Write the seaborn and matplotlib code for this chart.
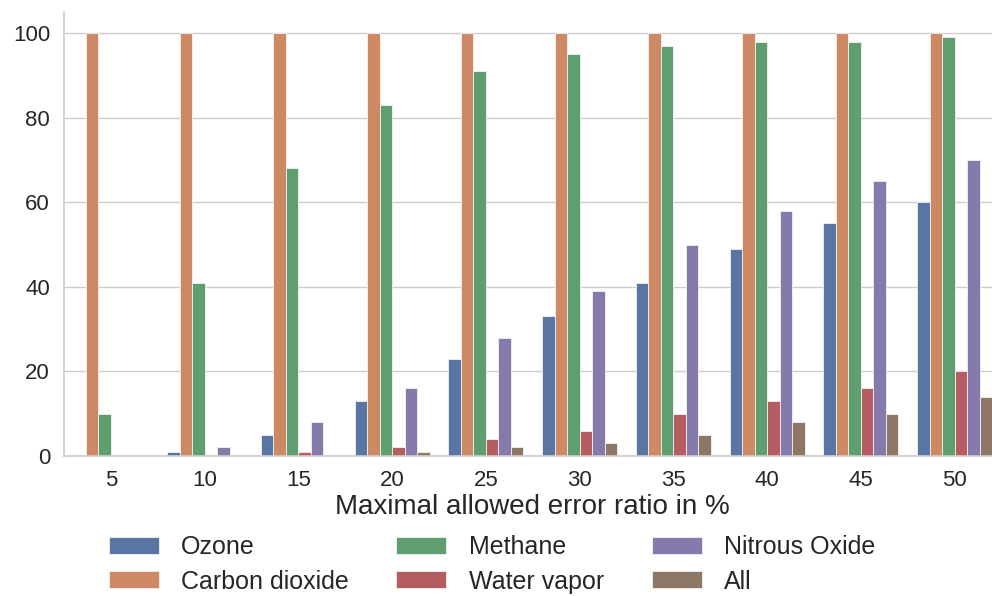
import numpy as np
import pandas as pd
import seaborn as sns
import matplotlib
matplotlib.use("Agg")
import matplotlib.pyplot as plt

# Error ratio thresholds (x categories)
error_ratio = [5, 10, 15, 20, 25, 30, 35, 40, 45, 50]

# Values per gas
ozone = [0, 1, 5, 13, 23, 33, 41, 49, 55, 60]
carbon_dioxide = [100, 100, 100, 100, 100, 100, 100, 100, 100, 100]
methane = [10, 41, 68, 83, 91, 95, 97, 98, 98, 99]
water_vapor = [0, 0, 1, 2, 4, 6, 10, 13, 16, 20]
nitrous_oxide = [0, 2, 8, 16, 28, 39, 50, 58, 65, 70]
all_gases = [0, 0, 0, 1, 2, 3, 5, 8, 10, 14]

series_names = ["Ozone", "Carbon dioxide", "Methane", "Water vapor", "Nitrous Oxide", "All"]
series_values = [ozone, carbon_dioxide, methane, water_vapor, nitrous_oxide, all_gases]

# Build long-form table
rows = []
for name, vals in zip(series_names, series_values):
    for x, v in zip(error_ratio, vals):
        rows.append({"ratio": x, "value": v, "gas": name})
df = pd.DataFrame(rows)

sns.set_theme(style="whitegrid", palette="deep")
plt.rcParams['font.family'] = ['Liberation Sans', 'DejaVu Sans']

fig = plt.figure(figsize=(9.92, 5.96), dpi=100)
ax = fig.add_axes([0.0645, 0.235, 0.945, 0.745])

sns.barplot(data=df, x="ratio", y="value", hue="gas", hue_order=series_names,
            ax=ax, width=0.8, edgecolor="#f2f2f2", linewidth=0.6)

sns.despine(ax=ax)
ax.set_ylim(0, 105)
ax.set_ylabel("")
ax.set_xlabel("Maximal allowed error ratio in %", fontsize=20, labelpad=2)
ax.tick_params(axis="both", labelsize=16, pad=4)
ax.set_yticks([0, 20, 40, 60, 80, 100])

handles, labels = ax.get_legend_handles_labels()
ax.legend_.remove()
fig.legend(handles, labels, ncol=3, loc="upper center", bbox_to_anchor=(0.496, 0.119),
           frameon=False, fontsize=18, handlelength=2.0, handleheight=0.65,
           handletextpad=0.9, columnspacing=1.9, labelspacing=0.42, borderaxespad=0)

fig.savefig("out.png", dpi=100)
